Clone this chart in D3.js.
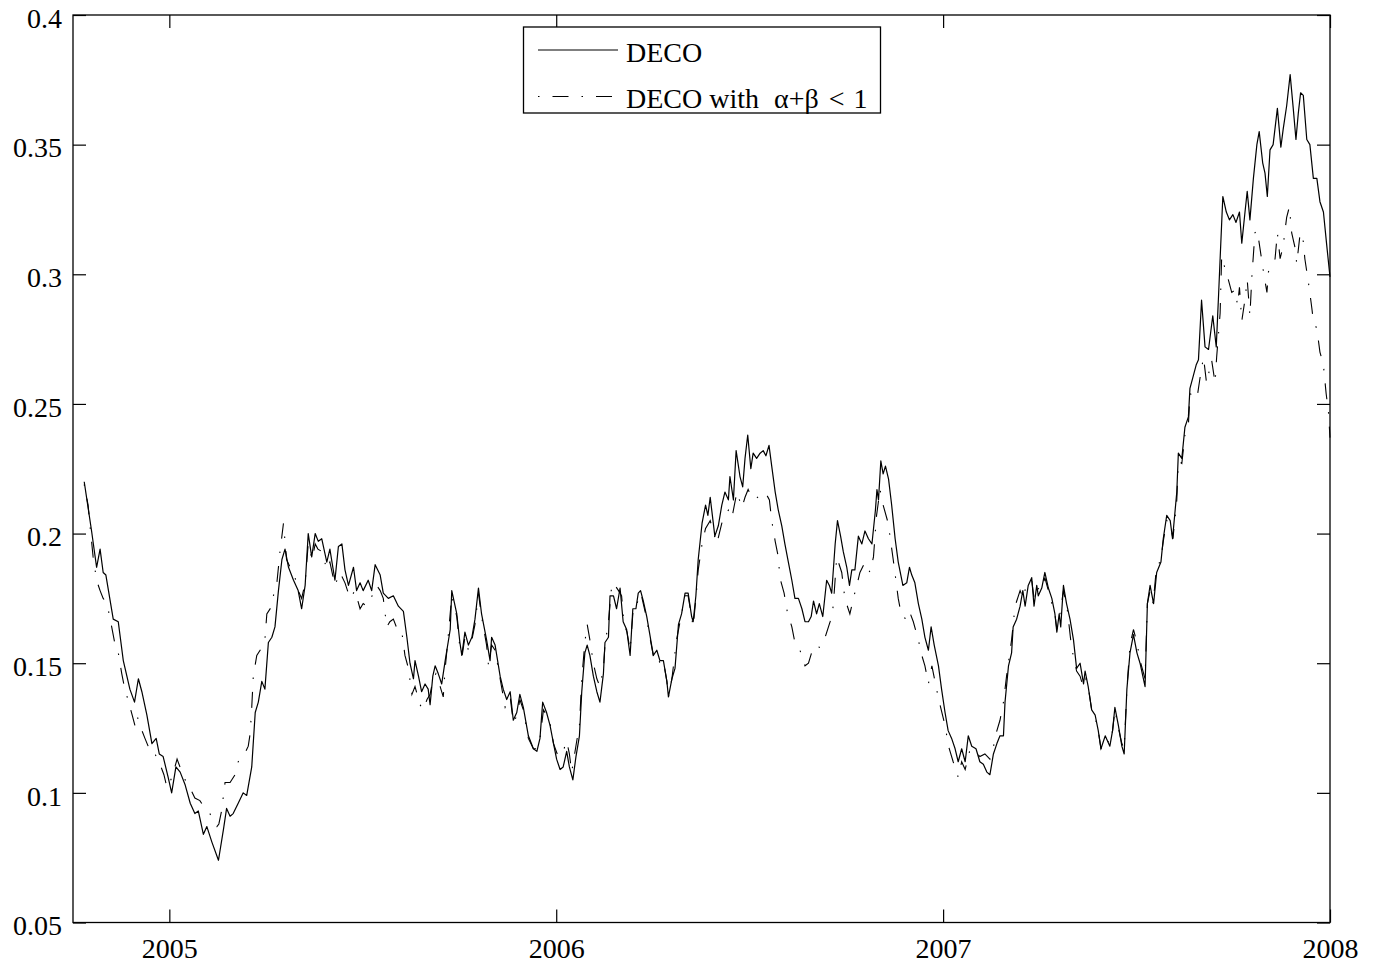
<!DOCTYPE html>
<html>
<head>
<meta charset="utf-8">
<script src="https://cdn.jsdelivr.net/npm/d3@7"></script>
<style>
  body { margin: 0; background: #fff; }
  svg { display: block; }
  text { font-family: "Liberation Serif", "Times New Roman", serif; fill: #000; }
</style>
</head>
<body>
<svg id="chart" width="1377" height="966"></svg>
<script>
// Dates are decimal years; values are the estimated average correlation.
const decoDates = [
  2004.780,2004.791,2004.799,2004.812,2004.821,2004.829,2004.836,2004.855,2004.868,2004.881,
  2004.898,2004.910,2004.920,2004.929,2004.942,2004.955,2004.966,2004.974,2004.984,2004.997,
  2005.006,2005.017,2005.028,2005.041,2005.054,2005.066,2005.075,2005.088,2005.097,2005.110,
  2005.127,2005.140,2005.148,2005.157,2005.165,2005.178,2005.191,2005.200,2005.213,2005.222,
  2005.230,2005.239,2005.247,2005.256,2005.265,2005.273,2005.282,2005.291,2005.299,2005.308,
  2005.321,2005.333,2005.342,2005.351,2005.359,2005.368,2005.377,2005.385,2005.394,2005.407,
  2005.415,2005.428,2005.437,2005.446,2005.454,2005.463,2005.476,2005.484,2005.493,2005.501,
  2005.514,2005.523,2005.532,2005.545,2005.553,2005.566,2005.579,2005.592,2005.605,2005.614,
  2005.622,2005.631,2005.635,2005.644,2005.652,2005.661,2005.669,2005.674,2005.681,2005.687,
  2005.695,2005.704,2005.713,2005.726,2005.730,2005.743,2005.751,2005.756,2005.764,2005.773,
  2005.782,2005.790,2005.799,2005.807,2005.820,2005.829,2005.833,2005.842,2005.855,2005.863,
  2005.872,2005.881,2005.889,2005.898,2005.906,2005.915,2005.928,2005.941,2005.950,2005.958,
  2005.965,2005.975,2005.984,2005.993,2006.001,2006.010,2006.018,2006.027,2006.034,2006.043,
  2006.051,2006.060,2006.066,2006.074,2006.080,2006.087,2006.096,2006.105,2006.113,2006.122,
  2006.126,2006.135,2006.139,2006.148,2006.156,2006.165,2006.173,2006.182,2006.191,2006.198,
  2006.206,2006.212,2006.218,2006.225,2006.234,2006.242,2006.251,2006.260,2006.268,2006.277,
  2006.286,2006.290,2006.299,2006.307,2006.316,2006.324,2006.333,2006.341,2006.350,2006.354,
  2006.361,2006.367,2006.377,2006.386,2006.392,2006.398,2006.410,2006.419,2006.428,2006.436,
  2006.445,2006.449,2006.458,2006.465,2006.475,2006.482,2006.488,2006.495,2006.503,2006.509,
  2006.518,2006.527,2006.535,2006.542,2006.550,2006.557,2006.566,2006.574,2006.583,2006.591,
  2006.600,2006.609,2006.617,2006.626,2006.635,2006.643,2006.652,2006.659,2006.665,2006.673,
  2006.680,2006.689,2006.699,2006.706,2006.712,2006.721,2006.727,2006.735,2006.742,2006.751,
  2006.758,2006.764,2006.772,2006.781,2006.790,2006.798,2006.807,2006.816,2006.825,2006.829,
  2006.833,2006.839,2006.845,2006.851,2006.859,2006.867,2006.876,2006.884,2006.896,2006.906,
  2006.913,2006.919,2006.927,2006.936,2006.945,2006.953,2006.962,2006.969,2006.977,2006.988,
  2006.996,2007.005,2007.013,2007.022,2007.031,2007.039,2007.048,2007.057,2007.065,2007.074,
  2007.085,2007.095,2007.104,2007.113,2007.121,2007.130,2007.139,2007.147,2007.156,2007.160,
  2007.169,2007.177,2007.181,2007.190,2007.199,2007.206,2007.212,2007.220,2007.229,2007.235,
  2007.242,2007.246,2007.255,2007.263,2007.272,2007.281,2007.289,2007.294,2007.300,2007.304,
  2007.311,2007.319,2007.328,2007.337,2007.345,2007.354,2007.363,2007.367,2007.375,2007.384,
  2007.393,2007.401,2007.408,2007.419,2007.431,2007.438,2007.444,2007.453,2007.462,2007.468,
  2007.475,2007.483,2007.492,2007.501,2007.509,2007.522,2007.528,2007.535,2007.544,2007.552,
  2007.563,2007.569,2007.578,2007.587,2007.593,2007.604,2007.608,2007.617,2007.625,2007.634,
  2007.638,2007.647,2007.654,2007.660,2007.668,2007.677,2007.686,2007.697,2007.706,2007.712,
  2007.716,2007.723,2007.732,2007.740,2007.749,2007.757,2007.766,2007.772,2007.781,2007.786,
  2007.793,2007.802,2007.811,2007.817,2007.826,2007.832,2007.838,2007.845,2007.853,2007.864,
  2007.873,2007.879,2007.888,2007.897,2007.905,2007.912,2007.918,2007.924,2007.931,2007.940,
  2007.948,2007.957,2007.966,2007.974,2007.983,2007.991,2008.000
];
const decoValues = [
  0.220,0.209,0.201,0.187,0.194,0.185,0.184,0.167,0.166,0.151,
  0.140,0.135,0.144,0.139,0.130,0.119,0.121,0.115,0.114,0.106,
  0.100,0.110,0.108,0.103,0.096,0.092,0.093,0.084,0.087,0.081,
  0.074,0.086,0.094,0.091,0.092,0.096,0.100,0.099,0.110,0.131,
  0.135,0.143,0.140,0.158,0.160,0.164,0.178,0.190,0.194,0.187,
  0.182,0.178,0.171,0.180,0.200,0.191,0.200,0.197,0.198,0.189,
  0.194,0.182,0.195,0.196,0.186,0.180,0.187,0.178,0.181,0.178,
  0.182,0.178,0.188,0.184,0.177,0.175,0.176,0.172,0.170,0.160,
  0.150,0.144,0.151,0.145,0.139,0.142,0.140,0.134,0.145,0.149,
  0.146,0.142,0.151,0.163,0.178,0.169,0.158,0.153,0.162,0.157,
  0.160,0.167,0.179,0.169,0.159,0.151,0.160,0.157,0.145,0.140,
  0.136,0.139,0.128,0.131,0.138,0.133,0.122,0.117,0.116,0.121,
  0.135,0.131,0.126,0.119,0.113,0.109,0.110,0.116,0.110,0.105,
  0.114,0.122,0.139,0.154,0.157,0.153,0.145,0.139,0.135,0.146,
  0.158,0.160,0.176,0.176,0.171,0.179,0.166,0.163,0.153,0.171,
  0.171,0.177,0.178,0.174,0.168,0.161,0.153,0.155,0.151,0.151,
  0.143,0.137,0.144,0.148,0.165,0.169,0.177,0.177,0.168,0.166,
  0.176,0.190,0.204,0.211,0.207,0.214,0.199,0.203,0.211,0.216,
  0.213,0.222,0.213,0.232,0.222,0.218,0.229,0.238,0.225,0.231,
  0.229,0.231,0.232,0.230,0.234,0.226,0.216,0.209,0.203,0.196,
  0.189,0.182,0.175,0.175,0.171,0.166,0.166,0.168,0.174,0.169,
  0.173,0.168,0.182,0.180,0.177,0.196,0.205,0.199,0.193,0.187,
  0.180,0.186,0.186,0.199,0.196,0.201,0.198,0.196,0.209,0.217,
  0.213,0.228,0.223,0.226,0.221,0.211,0.198,0.189,0.180,0.181,
  0.187,0.184,0.181,0.173,0.167,0.160,0.155,0.164,0.157,0.149,
  0.140,0.131,0.124,0.121,0.117,0.112,0.117,0.112,0.122,0.118,
  0.117,0.112,0.111,0.108,0.107,0.115,0.119,0.122,0.122,0.135,
  0.149,0.154,0.164,0.167,0.172,0.178,0.172,0.180,0.183,0.172,
  0.180,0.176,0.179,0.185,0.179,0.175,0.169,0.162,0.169,0.164,
  0.180,0.173,0.167,0.159,0.148,0.150,0.142,0.147,0.141,0.132,
  0.130,0.124,0.117,0.122,0.118,0.124,0.133,0.126,0.118,0.115,
  0.140,0.154,0.161,0.154,0.150,0.141,0.173,0.180,0.173,0.185,
  0.189,0.198,0.207,0.205,0.198,0.216,0.231,0.229,0.241,0.245,
  0.256,0.261,0.265,0.267,0.290,0.272,0.271,0.284,0.272,0.292,
  0.306,0.330,0.324,0.321,0.323,0.320,0.324,0.312,0.325,0.332,
  0.321,0.337,0.350,0.355,0.343,0.339,0.330,0.348,0.350,0.364,
  0.349,0.356,0.365,0.377,0.364,0.352,0.362,0.370,0.369,0.352,
  0.350,0.337,0.337,0.328,0.324,0.312,0.299
];

const restrictedDates = [
  2004.780,2004.790,2004.795,2004.803,2004.812,2004.821,2004.829,2004.839,2004.851,2004.860,
  2004.867,2004.877,2004.885,2004.893,2004.904,2004.911,2004.916,2004.924,2004.937,2004.948,
  2004.958,2004.966,2004.976,2004.986,2004.994,2005.007,2005.020,2005.030,2005.041,2005.053,
  2005.066,2005.079,2005.092,2005.105,2005.113,2005.123,2005.128,2005.135,2005.144,2005.157,
  2005.170,2005.178,2005.191,2005.204,2005.209,2005.213,2005.217,2005.226,2005.239,2005.247,
  2005.252,2005.265,2005.269,2005.278,2005.286,2005.295,2005.303,2005.315,2005.325,2005.333,
  2005.342,2005.351,2005.359,2005.369,2005.377,2005.384,2005.395,2005.407,2005.415,2005.428,
  2005.441,2005.454,2005.467,2005.480,2005.493,2005.501,2005.510,2005.521,2005.536,2005.545,
  2005.553,2005.562,2005.570,2005.579,2005.592,2005.601,2005.609,2005.618,2005.627,2005.635,
  2005.648,2005.656,2005.666,2005.674,2005.682,2005.689,2005.700,2005.708,2005.713,2005.720,
  2005.730,2005.743,2005.751,2005.757,2005.764,2005.773,2005.782,2005.790,2005.799,2005.807,
  2005.820,2005.825,2005.833,2005.842,2005.855,2005.868,2005.881,2005.889,2005.899,2005.906,
  2005.915,2005.928,2005.941,2005.950,2005.958,2005.967,2005.975,2005.984,2005.993,2006.005,
  2006.018,2006.027,2006.034,2006.040,2006.053,2006.060,2006.066,2006.074,2006.080,2006.087,
  2006.096,2006.105,2006.113,2006.122,2006.126,2006.135,2006.144,2006.152,2006.161,2006.169,
  2006.175,2006.183,2006.191,2006.199,2006.206,2006.214,2006.219,2006.225,2006.234,2006.242,
  2006.251,2006.260,2006.268,2006.277,2006.286,2006.290,2006.299,2006.311,2006.324,2006.333,
  2006.341,2006.354,2006.361,2006.367,2006.377,2006.386,2006.398,2006.415,2006.428,2006.436,
  2006.445,2006.454,2006.467,2006.480,2006.488,2006.496,2006.505,2006.514,2006.527,2006.540,
  2006.551,2006.557,2006.566,2006.574,2006.578,2006.589,2006.597,2006.609,2006.617,2006.630,
  2006.643,2006.652,2006.660,2006.669,2006.682,2006.695,2006.708,2006.716,2006.725,2006.738,
  2006.746,2006.759,2006.768,2006.777,2006.785,2006.798,2006.811,2006.820,2006.828,2006.837,
  2006.845,2006.858,2006.871,2006.878,2006.884,2006.893,2006.906,2006.913,2006.923,2006.936,
  2006.945,2006.953,2006.962,2006.971,2006.983,2006.992,2007.005,2007.014,2007.026,2007.039,
  2007.048,2007.057,2007.070,2007.082,2007.095,2007.108,2007.121,2007.129,2007.137,2007.147,
  2007.156,2007.164,2007.177,2007.186,2007.199,2007.207,2007.216,2007.229,2007.235,2007.243,
  2007.255,2007.263,2007.272,2007.281,2007.289,2007.294,2007.302,2007.311,2007.320,2007.332,
  2007.345,2007.354,2007.362,2007.369,2007.377,2007.385,2007.393,2007.401,2007.408,2007.419,
  2007.431,2007.438,2007.444,2007.453,2007.462,2007.468,2007.475,2007.483,2007.492,2007.501,
  2007.509,2007.522,2007.528,2007.535,2007.543,2007.552,2007.562,2007.569,2007.578,2007.587,
  2007.594,2007.604,2007.608,2007.617,2007.625,2007.634,2007.638,2007.647,2007.656,2007.664,
  2007.673,2007.681,2007.694,2007.703,2007.707,2007.716,2007.720,2007.729,2007.737,2007.746,
  2007.755,2007.761,2007.766,2007.772,2007.780,2007.786,2007.793,2007.798,2007.806,2007.812,
  2007.819,2007.828,2007.837,2007.841,2007.849,2007.858,2007.864,2007.871,2007.879,2007.888,
  2007.895,2007.901,2007.910,2007.914,2007.923,2007.930,2007.935,2007.940,2007.946,2007.953,
  2007.957,2007.966,2007.974,2007.983,2007.990,2007.996,2008.000
];
const restrictedValues = [
  0.219,0.211,0.203,0.191,0.182,0.178,0.175,0.173,0.164,0.157,
  0.155,0.146,0.140,0.136,0.130,0.126,0.130,0.126,0.121,0.117,
  0.117,0.114,0.111,0.107,0.102,0.106,0.113,0.109,0.105,0.102,
  0.098,0.097,0.094,0.092,0.089,0.087,0.088,0.093,0.104,0.104,
  0.107,0.112,0.114,0.118,0.123,0.133,0.145,0.153,0.156,0.159,
  0.169,0.172,0.176,0.181,0.193,0.204,0.190,0.186,0.183,0.178,
  0.175,0.181,0.196,0.190,0.196,0.194,0.193,0.186,0.189,0.180,
  0.185,0.181,0.175,0.178,0.171,0.173,0.172,0.175,0.180,0.178,
  0.175,0.164,0.166,0.167,0.162,0.162,0.153,0.148,0.138,0.141,
  0.134,0.132,0.136,0.138,0.144,0.146,0.141,0.137,0.148,0.159,
  0.176,0.168,0.156,0.153,0.160,0.155,0.159,0.165,0.177,0.168,
  0.157,0.149,0.157,0.155,0.144,0.133,0.137,0.127,0.130,0.136,
  0.132,0.121,0.117,0.117,0.121,0.132,0.130,0.127,0.119,0.114,
  0.116,0.120,0.115,0.108,0.120,0.126,0.144,0.158,0.165,0.159,
  0.150,0.144,0.141,0.148,0.157,0.166,0.181,0.180,0.178,0.176,
  0.165,0.162,0.155,0.171,0.171,0.176,0.177,0.173,0.167,0.160,
  0.153,0.154,0.150,0.151,0.143,0.137,0.144,0.159,0.169,0.176,
  0.176,0.164,0.175,0.186,0.196,0.202,0.205,0.196,0.204,0.207,
  0.209,0.206,0.216,0.210,0.214,0.217,0.214,0.213,0.215,0.216,
  0.213,0.205,0.197,0.191,0.183,0.177,0.170,0.164,0.158,0.155,
  0.149,0.150,0.154,0.157,0.156,0.160,0.166,0.172,0.191,0.185,
  0.175,0.169,0.175,0.180,0.185,0.189,0.185,0.191,0.207,0.217,
  0.211,0.204,0.190,0.182,0.175,0.168,0.167,0.170,0.166,0.159,
  0.153,0.149,0.142,0.149,0.140,0.134,0.126,0.118,0.112,0.106,
  0.112,0.109,0.117,0.116,0.114,0.115,0.113,0.117,0.123,0.128,
  0.135,0.145,0.159,0.172,0.178,0.175,0.181,0.182,0.175,0.179,
  0.178,0.183,0.178,0.173,0.169,0.163,0.169,0.178,0.172,0.156,
  0.147,0.145,0.141,0.144,0.139,0.131,0.129,0.124,0.117,0.121,
  0.119,0.124,0.132,0.125,0.119,0.117,0.140,0.157,0.163,0.158,
  0.151,0.144,0.173,0.178,0.173,0.188,0.189,0.197,0.205,0.204,
  0.198,0.213,0.228,0.227,0.238,0.242,0.254,0.253,0.252,0.260,
  0.268,0.258,0.267,0.258,0.268,0.285,0.307,0.302,0.298,0.293,
  0.294,0.288,0.295,0.282,0.290,0.298,0.284,0.299,0.316,0.317,
  0.310,0.301,0.293,0.301,0.303,0.306,0.316,0.306,0.311,0.322,
  0.326,0.316,0.310,0.304,0.316,0.314,0.306,0.301,0.295,0.287,
  0.282,0.279,0.270,0.265,0.254,0.247,0.237
];

const yTicks = [0.05, 0.1, 0.15, 0.2, 0.25, 0.3, 0.35, 0.4];
const yTickLabels = ["0.05", "0.1", "0.15", "0.2", "0.25", "0.3", "0.35", "0.4"];
const xTicks = [2005, 2006, 2007, 2008];
const xTickLabels = ["2005", "2006", "2007", "2008"];
const seriesNames = ["DECO", "DECO with \u03B1+\u03B2 < 1"];

const plot = { left: 73, right: 1330, top: 15, bottom: 922.5 };
const FONT = 28;
const TICK = 13;

const svg = d3.select("#chart");

const x = d3.scaleLinear().domain([2004.751, 2008]).range([plot.left, plot.right]);
const y = d3.scaleLinear().domain([0.05, 0.4]).range([plot.bottom, plot.top]);

function styleAxis(g) {
  g.select(".domain").remove();
  g.selectAll(".tick line").attr("stroke", "#000").attr("stroke-width", 1.2);
  g.selectAll("text").attr("font-size", FONT).attr("font-family", null).attr("fill", "#000");
}

// Left axis with labels
svg.append("g")
  .attr("transform", `translate(${plot.left},0)`)
  .call(d3.axisLeft(y).tickValues(yTicks).tickFormat((d, i) => yTickLabels[i])
    .tickSizeInner(-TICK).tickSizeOuter(0).tickPadding(11))
  .call(styleAxis)
  .call(g => g.selectAll("text").attr("dy", "0.44em"));

// Right axis: ticks only
svg.append("g")
  .attr("transform", `translate(${plot.right},0)`)
  .call(d3.axisRight(y).tickValues(yTicks).tickFormat("")
    .tickSizeInner(-TICK).tickSizeOuter(0))
  .call(styleAxis);

// Bottom axis with labels
svg.append("g")
  .attr("transform", `translate(0,${plot.bottom})`)
  .call(d3.axisBottom(x).tickValues(xTicks).tickFormat((d, i) => xTickLabels[i])
    .tickSizeInner(-TICK).tickSizeOuter(0).tickPadding(16))
  .call(styleAxis);

// Top axis: ticks only
svg.append("g")
  .attr("transform", `translate(0,${plot.top})`)
  .call(d3.axisTop(x).tickValues(xTicks).tickFormat("")
    .tickSizeInner(-TICK).tickSizeOuter(0))
  .call(styleAxis);

// Frame
svg.append("rect")
  .attr("x", plot.left).attr("y", plot.top)
  .attr("width", plot.right - plot.left).attr("height", plot.bottom - plot.top)
  .attr("fill", "none").attr("stroke", "#000").attr("stroke-width", 1.3);

const line = d3.line().x(d => x(d[0])).y(d => y(d[1]));

const DASHDOT = "1.5,13,16,13";

svg.append("path")
  .datum(d3.zip(restrictedDates, restrictedValues))
  .attr("d", line)
  .attr("fill", "none").attr("stroke", "#000").attr("stroke-width", 1.1)
  .attr("stroke-dasharray", DASHDOT);

svg.append("path")
  .datum(d3.zip(decoDates, decoValues))
  .attr("d", line)
  .attr("fill", "none").attr("stroke", "#000").attr("stroke-width", 1.2)
  .attr("stroke-linejoin", "round");

// Legend
const legend = svg.append("g");
legend.append("rect")
  .attr("x", 523.5).attr("y", 27).attr("width", 357).attr("height", 86)
  .attr("fill", "#fff").attr("stroke", "#000").attr("stroke-width", 1.3);

// word gaps widen slightly around the math part of the second label
const legendRows = [
  { name: seriesNames[0], dash: null, ly: 50, ty: 62, gaps: [] },
  { name: seriesNames[1], dash: DASHDOT, ly: 96.5, ty: 107.5, gaps: [7, 15, 10, 9] }
];
legendRows.forEach(r => {
  legend.append("line")
    .attr("x1", 538).attr("x2", 618).attr("y1", r.ly).attr("y2", r.ly)
    .attr("stroke", "#000").attr("stroke-width", 1.2)
    .attr("stroke-dasharray", r.dash);
  const t = legend.append("text")
    .attr("x", 626).attr("y", r.ty)
    .attr("font-size", FONT);
  r.name.split(" ").forEach((word, i) => {
    t.append("tspan").attr("dx", i === 0 ? 0 : r.gaps[i - 1]).text(word);
  });
});
</script>
</body>
</html>
